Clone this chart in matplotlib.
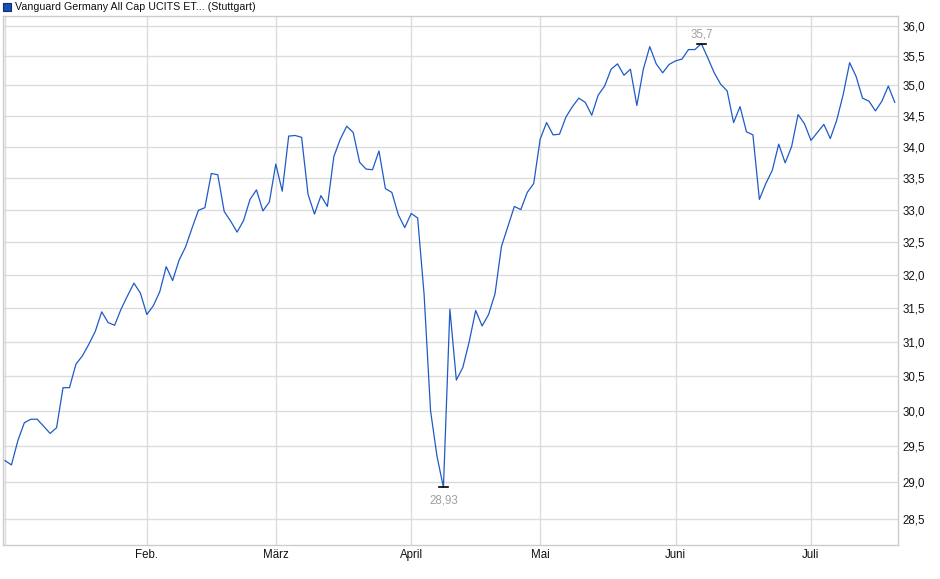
import numpy as np
import matplotlib.pyplot as plt
from matplotlib.patches import Rectangle
from matplotlib.ticker import FixedLocator, FuncFormatter, NullLocator

plt.rcParams['font.family'] = ['Liberation Sans', 'DejaVu Sans']

title = 'Vanguard Germany All Cap UCITS ET... (Stuttgart)'

# Schlusskurse je Handelstag (2. Jan. bis Mitte Juli)
prices = [
    29.30, 29.24, 29.58, 29.83, 29.88, 29.88, 29.78, 29.68, 29.76, 30.33,
    30.33, 30.67, 30.79, 30.96, 31.15, 31.44, 31.28, 31.24, 31.48, 31.68,
    31.87, 31.72, 31.40, 31.53, 31.74, 32.12, 31.91, 32.22, 32.42, 32.71,
    32.99, 33.03, 33.57, 33.55, 32.97, 32.82, 32.65, 32.83, 33.16, 33.31,
    32.98, 33.12, 33.72, 33.29, 34.17, 34.18, 34.15, 33.24, 32.93, 33.22,
    33.05, 33.84, 34.12, 34.33, 34.23, 33.75, 33.64, 33.63, 33.93, 33.33,
    33.27, 32.92, 32.72, 32.94, 32.87, 31.70, 30.00, 29.36, 28.93, 31.48,
    30.44, 30.62, 31.00, 31.46, 31.23, 31.40, 31.71, 32.43, 32.74, 33.05,
    33.00, 33.27, 33.41, 34.12, 34.39, 34.19, 34.20, 34.48, 34.65, 34.79,
    34.72, 34.51, 34.84, 34.99, 35.27, 35.36, 35.17, 35.27, 34.67, 35.27,
    35.65, 35.36, 35.21, 35.35, 35.41, 35.44, 35.60, 35.60, 35.70, 35.46,
    35.21, 35.02, 34.91, 34.39, 34.65, 34.24, 34.19, 33.16, 33.41, 33.62,
    34.04, 33.74, 34.00, 34.52, 34.37, 34.10, 34.23, 34.36, 34.13, 34.43,
    34.85, 35.38, 35.15, 34.79, 34.74, 34.58, 34.74, 34.99, 34.72,
]

# erster Handelstag je Monat (Index in prices)
month_labels = ['Feb.', 'März', 'April', 'Mai', 'Juni', 'Juli']
month_starts = [22, 42, 63, 83, 104, 125]
y_ticks = [28.5, 29.0, 29.5, 30.0, 30.5, 31.0, 31.5, 32.0,
           32.5, 33.0, 33.5, 34.0, 34.5, 35.0, 35.5, 36.0]

W, H = 940, 579
fig = plt.figure(figsize=(W / 100, H / 100), dpi=100)
ax = fig.add_axes([3 / W, 33.6 / H, 895 / W, 529.7 / H])

x = np.arange(len(prices))
ax.plot(x, prices, color='#1f5bc6', lw=0.9, zorder=3)

ax.set_yscale('log')
ax.set_ylim(28.146, 36.176)
ax.set_xlim(-0.31, 138.5)

ax.yaxis.set_major_locator(FixedLocator(y_ticks))
ax.yaxis.set_minor_locator(NullLocator())
ax.yaxis.set_major_formatter(FuncFormatter(lambda v, p: f'{v:.1f}'.replace('.', ',')))
ax.yaxis.tick_right()
ax.set_xticks(month_starts)
ax.set_xticklabels(month_labels)
ax.tick_params(axis='both', length=0, labelsize=8.3, colors='#111111')
ax.tick_params(axis='x', pad=2.5)
ax.tick_params(axis='y', pad=3)

ax.grid(True, color='#dcdcdc', lw=1.0, zorder=0)
ax.axvline(0, color='#dcdcdc', lw=1.0, zorder=0)
for s in ax.spines.values():
    s.set_color('#cccccc')
    s.set_linewidth(1.0)

# Min / Max Markierung
i_min = int(np.argmin(prices))
i_max = int(np.argmax(prices))
for i, va, dy in [(i_min, 'top', -5), (i_max, 'bottom', 2.5)]:
    v = prices[i]
    ax.plot([i - 0.75, i + 0.75], [v, v], color='black', lw=1.2, zorder=4)
    txt = f'{v:.2f}'.replace('.', ',') if i == i_min else f'{v:.1f}'.replace('.', ',')
    ax.annotate(txt, (i, v), xytext=(0, dy), textcoords='offset points',
                ha='center', va=va, fontsize=8.3, color='#a0a0a0')

# Legende oben links
fig.patches.append(Rectangle((3 / W, (H - 11) / H), 8 / W, 8 / H,
                             transform=fig.transFigure, facecolor='#1a4fb5',
                             edgecolor='#0d2e6e', lw=0.8))
fig.text(15 / W, (H - 7) / H, title, fontsize=7.7, color='#111111', va='center')

fig.savefig('out.png', dpi=100)
